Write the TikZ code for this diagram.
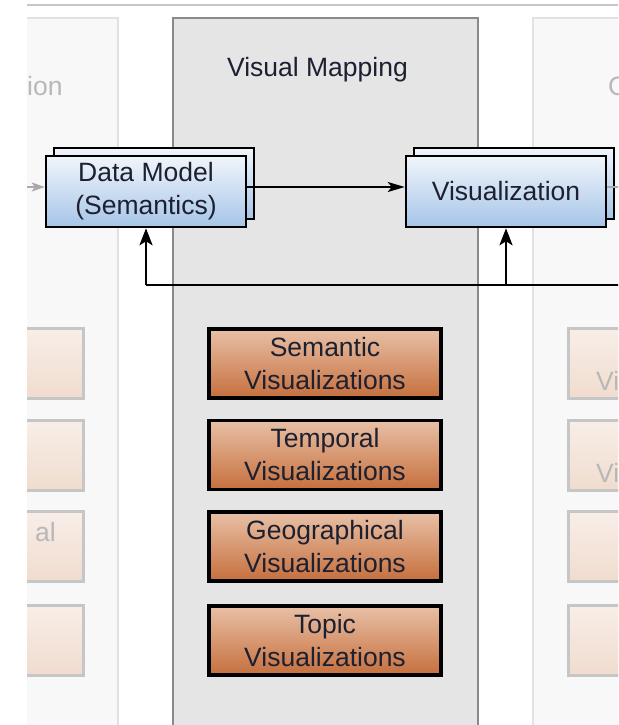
\documentclass[tikz,border=0pt]{standalone}
\usepackage{fontspec}
\setmainfont{Liberation Sans}
\usetikzlibrary{arrows.meta}

\definecolor{ink}{HTML}{1C2030}
\definecolor{fadeink}{HTML}{B8B8B8}
\definecolor{rule}{HTML}{C8C8C8}
\definecolor{sidefill}{HTML}{F8F8F8}
\definecolor{sideedge}{HTML}{E2E2E2}
\definecolor{midfill}{HTML}{E5E5E5}
\definecolor{midedge}{HTML}{8A8A8A}
\definecolor{blueTop}{HTML}{F1F5FB}
\definecolor{blueBot}{HTML}{A6C5E8}
\definecolor{orTop}{HTML}{E8C0A6}
\definecolor{orBot}{HTML}{C66F3D}
\definecolor{fadeTop}{HTML}{F8EEE8}
\definecolor{fadeBot}{HTML}{F0DCCE}
\definecolor{fadeEdge}{HTML}{C6C6C6}
\definecolor{fadeArrow}{HTML}{AAAAAA}

\tikzset{
  txt/.style={font=\fontsize{26.5}{33}\selectfont},
  bluebox/.style={txt, draw=black, line width=2.5pt, top color=blueTop,
    bottom color=blueBot, minimum width=200pt, minimum height=71pt,
    inner sep=0pt, align=center, text=ink},
  orbox/.style={txt, draw=black, line width=3.5pt, top color=orTop,
    bottom color=orBot, minimum width=232pt, minimum height=69pt,
    inner sep=0pt, align=center, text=ink},
  fadebox/.style={draw=fadeEdge, line width=3pt, top color=fadeTop,
    bottom color=fadeBot},
  fadetext/.style={txt, text=fadeink, inner sep=0pt, anchor=base west},
  panel/.style={line width=2pt},
  harr/.style={draw=black, line width=2pt,
    -{Stealth[length=17pt,width=10pt,inset=4pt]}},
  varr/.style={draw=black, line width=2.6pt,
    -{Stealth[length=17pt,width=13pt,inset=4pt]}},
  farr/.style={draw=fadeArrow, line width=2pt,
    -{Stealth[length=13pt,width=9pt,inset=3pt]}},
}

\begin{document}
\begin{tikzpicture}[x=1pt,y=-1pt]
\useasboundingbox (0,0) rectangle (618,725);
\begin{scope}
\clip (27,0) rectangle (618,725);

% top rule
\draw[rule, line width=2pt] (27,5.5) -- (620,5.5);

% side panels (faded) and middle panel
\draw[panel, fill=sidefill, draw=sideedge] (10,18) rectangle (118,740);
\draw[panel, fill=sidefill, draw=sideedge] (533,18) rectangle (700,740);
\draw[panel, fill=midfill, draw=midedge] (173,18) rectangle (478,740);

% panel titles
\node[txt, text=ink, inner sep=0pt, anchor=base] (title) at (317.5,77) {Visual Mapping};
\node[fadetext] (ltitle) at (27,95) {ion};
\node[fadetext] (rtitle) at (608,95) {C};

% faded boxes of the neighbouring panels
\foreach \y [count=\i] in {363.5,455,546.5,640.5} {
  \path[fadebox] (10,\y-35) rectangle (83.5,\y+35);
  \path[fadebox] (568.5,\y-35) rectangle (660,\y+35);
}
\node[fadetext] (lal) at (35,541) {al};
\node[fadetext] (rvi1) at (596,390) {Vi};
\node[fadetext] (rvi2) at (596,482) {Vi};

% stacked blue boxes
\node[bluebox] (dmback) at (154,183.5) {};
\node[bluebox] (dm) at (146,191.5) {Data Model\\(Semantics)};
\node[bluebox] (visback) at (514,183.5) {};
\node[bluebox] (vis) at (506,191.5) {Visualization};

% faded connectors to and from the side panels
\coordinate (inL) at (20,187);
\coordinate (outR) at (625,187);
\draw[farr] (inL) -- ([yshift=4.5pt]dm.west);
\draw[fadeArrow, line width=2pt] ([yshift=4.5pt]vis.east) -- (outR);

% main connector
\draw[harr] ([yshift=4.5pt]dm.east) -- ([yshift=4.5pt]vis.west);

% feedback loop
\coordinate (fbL) at (146,285);
\coordinate (fbR) at (625,285);
\draw[black, line width=2.6pt] (fbR) -- (fbL);
\draw[varr] (fbL) -- (dm.south);
\draw[varr] (vis.south |- fbL) -- (vis.south);

% visualization types
\node[orbox] (sem) at (325,363.5) {Semantic\\Visualizations};
\node[orbox] (tmp) at (325,455) {Temporal\\Visualizations};
\node[orbox] (geo) at (325,546.5) {Geographical\\Visualizations};
\node[orbox] (top) at (325,640.5) {Topic\\Visualizations};
\end{scope}
\end{tikzpicture}
\end{document}
